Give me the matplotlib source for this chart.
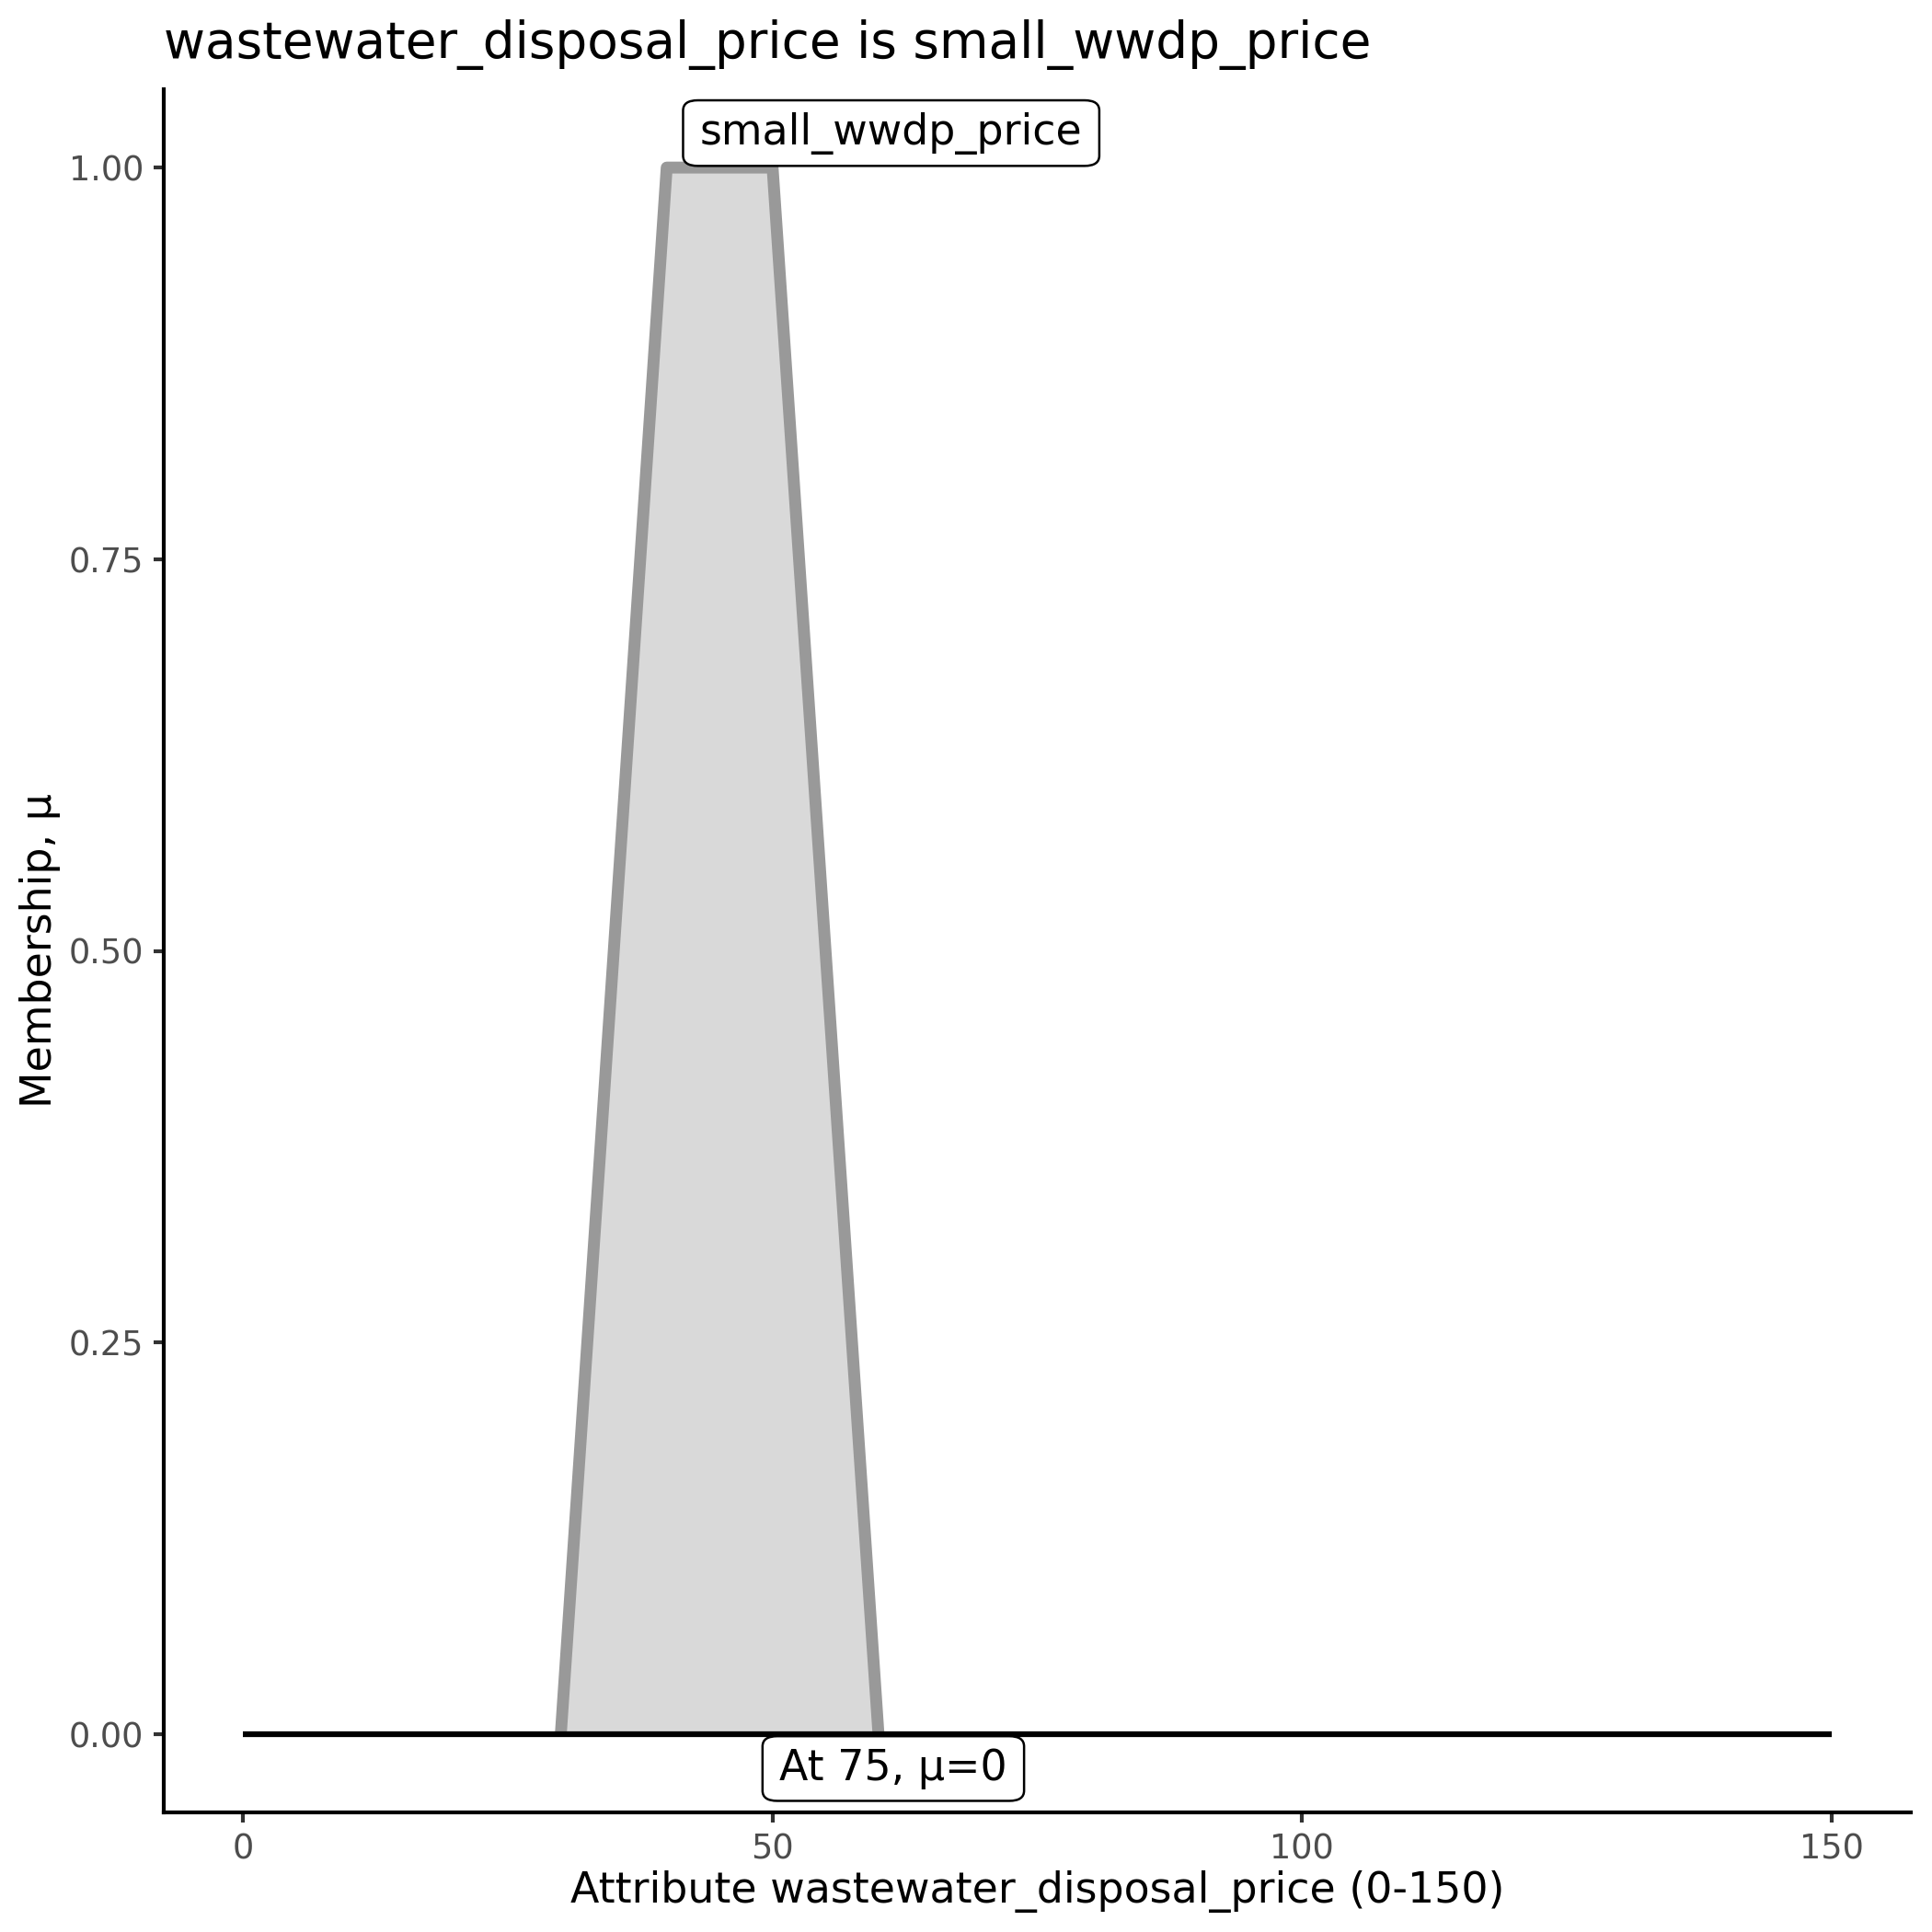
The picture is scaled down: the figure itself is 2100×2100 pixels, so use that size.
import matplotlib
matplotlib.use("Agg")
import matplotlib.pyplot as plt

# data
mf_x = [30, 40, 50, 60]
mf_y = [0, 1, 1, 0]
base_x = [0, 150]
base_y = [0, 0]
set_label = "small_wwdp_price"
set_label_pos = (61.2, 1.022)
value_label = "At 75, μ=0"
value_label_pos = (61.4, -0.022)
x_ticks = [0, 50, 100, 150]
y_ticks = [0.0, 0.25, 0.5, 0.75, 1.0]
y_ticklabels = ["0.00", "0.25", "0.50", "0.75", "1.00"]
title = "wastewater_disposal_price is small_wwdp_price"
xlabel = "Attribute wastewater_disposal_price (0-150)"
ylabel = "Membership, μ"

plt.rcParams['font.family'] = ['DejaVu Sans']
W = 2100.0
fig = plt.figure(figsize=(7, 7), dpi=300)
L, R, T, B = 178, 2077, 97, 1970
ax = fig.add_axes([L/W, 1-B/W, (R-L)/W, (B-T)/W])

ax.fill(mf_x, mf_y, color="#D9D9D9", lw=0, zorder=1)
ax.plot(mf_x, mf_y, color="#999999", lw=3.1, solid_joinstyle="round",
        solid_capstyle="butt", zorder=2)
ax.plot(base_x, base_y, color="black", lw=1.5, solid_capstyle="butt", zorder=3)

bbox = dict(boxstyle="round,pad=0.4,rounding_size=0.35", fc="white", ec="black",
            lw=0.6, mutation_aspect=0.69)
ax.text(*set_label_pos, set_label, ha="center", va="center", fontsize=11, bbox=bbox, zorder=5)
ax.text(*value_label_pos, value_label, ha="center", va="center", fontsize=11, bbox=bbox, zorder=5)

ax.set_xlim(-7.5, 157.5)
ax.set_ylim(-0.05, 1.05)
ax.set_xticks(x_ticks)
ax.set_xticklabels([str(v) for v in x_ticks])
ax.set_yticks(y_ticks)
ax.set_yticklabels(y_ticklabels)
ax.tick_params(axis="both", length=2.7, width=1.0, color="#333333",
               labelcolor="#4D4D4D", labelsize=8.8, pad=2.5)
for s in ["top", "right"]:
    ax.spines[s].set_visible(False)
for s in ["left", "bottom"]:
    ax.spines[s].set_linewidth(1.0)
    ax.spines[s].set_color("black")

fig.text((L+R)/2/W, 1-2068/W, xlabel, fontsize=11, ha="center", va="baseline")
fig.text(56/W, 1-(T+B)/2/W, ylabel, fontsize=11, ha="center", va="baseline",
         rotation=90, rotation_mode="anchor")
fig.text(L/W, 1-63/W, title, fontsize=13.2, ha="left", va="baseline")

fig.savefig("out.png", dpi=300)
